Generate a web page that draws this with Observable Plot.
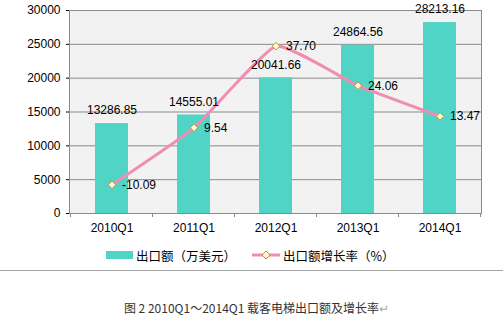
<!DOCTYPE html>
<html>
<head>
<meta charset="utf-8">
<script src="https://cdn.jsdelivr.net/npm/d3@7"></script>
<script src="https://cdn.jsdelivr.net/npm/@observablehq/plot@0.6"></script>
<style>
  html, body { margin: 0; padding: 0; background: #fff; }
  body { width: 503px; height: 325px; overflow: hidden; font-family: "Liberation Sans", Arial, sans-serif; }
  #chart svg { display: block; }
  #legend { position: relative; height: 30px; font-family: "Noto Sans CJK SC", sans-serif; font-size: 12.5px; color: #000; }
  #legend .item { position: absolute; top: 0; display: flex; align-items: center; height: 30px; }
  #rule { height: 0; border-top: 1px solid #a6a6a6; margin: 0; }
  #caption { text-align: center; font-family: "Noto Sans CJK SC", sans-serif; font-size: 12px; color: #333; margin-top: 28px; padding-left: 10px; }
  #caption .ret { color: #aaa; }
</style>
</head>
<body>
<div id="chart"></div>
<div id="legend"></div>
<div id="rule"></div>
<div id="caption"></div>
<script>
// ---- data ----
const quarters = ["2010Q1", "2011Q1", "2012Q1", "2013Q1", "2014Q1"];
const exportValues = [13286.85, 14555.01, 20041.66, 24864.56, 28213.16]; // 出口额（万美元）
const growthRates = [-10.09, 9.54, 37.70, 24.06, 13.47];                 // 出口额增长率（%）
const yTicks = [0, 5000, 10000, 15000, 20000, 25000, 30000];
const seriesNames = ["出口额（万美元）", "出口额增长率（%）"];
const captionText = "图 2 2010Q1～2014Q1 载客电梯出口额及增长率";

// secondary (hidden) axis for growth rate: -20 .. 50 mapped onto 0 .. 30000
const rateDomain = [-20, 50];
const yDomain = [0, 30000];
const rateToY = r => (r - rateDomain[0]) / (rateDomain[1] - rateDomain[0]) * (yDomain[1] - yDomain[0]) + yDomain[0];

const data = quarters.map((q, i) => ({q, value: exportValues[i], rate: growthRates[i]}));

const barColor = "#4fd4c6";
const lineColor = "#f28db2";
const markerFill = "#ffffc4";
const markerStroke = "#cf8a52";
const gridColor = "#8a8a8a";

// boundary ticks on the x axis (between categories), derived from the band scale
function boundaryTicks(index, scales, values, dims) {
  const x = scales.x;
  const bw = typeof x.bandwidth === "function" ? x.bandwidth() : 0;
  const step = typeof x.step === "function" ? x.step() : 0;
  const y0 = scales.y(0);
  const g = document.createElementNS("http://www.w3.org/2000/svg", "g");
  const edges = [];
  quarters.forEach((q, i) => {
    const c = x(q) + bw / 2;
    if (i === 0) edges.push(c - step / 2);
    edges.push(c + step / 2);
  });
  for (const e of edges) {
    const l = document.createElementNS("http://www.w3.org/2000/svg", "line");
    l.setAttribute("x1", e); l.setAttribute("x2", e);
    l.setAttribute("y1", y0); l.setAttribute("y2", y0 + 4);
    l.setAttribute("stroke", gridColor);
    g.appendChild(l);
  }
  return g;
}

const chart = Plot.plot({
  width: 503,
  height: 240,
  marginLeft: 69,
  marginRight: 22,
  marginTop: 10,
  marginBottom: 27,
  style: {fontFamily: "Liberation Sans, Arial, sans-serif", fontSize: "12px", color: "#000", background: "transparent"},
  x: {domain: quarters, paddingInner: 0.6, paddingOuter: 0.3, tickSize: 0, tickPadding: 10, label: null},
  y: {domain: yDomain, ticks: yTicks, tickFormat: d => String(d), tickSize: 3, tickPadding: 6, label: null},
  marks: [
    Plot.frame({fill: "#f2f2f2", stroke: "none"}),
    Plot.ruleY(yTicks, {stroke: gridColor, strokeWidth: 1}),
    Plot.barY(data, {x: "q", y: "value", fill: barColor}),
    Plot.frame({stroke: gridColor, strokeWidth: 1}),
    boundaryTicks,
    Plot.line(data, {x: "q", y: d => rateToY(d.rate), stroke: lineColor, strokeWidth: 3, curve: "cardinal", tension: 0.6}),
    Plot.dot(data, {x: "q", y: d => rateToY(d.rate), symbol: "diamond2", r: 3.4, fill: markerFill, stroke: markerStroke, strokeWidth: 1}),
    Plot.text(data, {x: "q", y: "value", text: d => d.value.toFixed(2), dy: -13, fontSize: 12, fill: "#000"}),
    Plot.text(data, {x: "q", y: d => rateToY(d.rate), text: d => d.rate.toFixed(2), textAnchor: "start", dx: 10, fontSize: 12, fill: "#000"})
  ]
});
document.getElementById("chart").appendChild(chart);

// legend
const legend = document.getElementById("legend");
legend.innerHTML = `
  <div class="item" style="left:106px">
    <span style="display:inline-block;width:27px;height:8px;background:${barColor};margin-right:3px"></span>
    <span>${seriesNames[0]}</span>
  </div>
  <div class="item" style="left:252px">
    <svg width="28" height="10" style="margin-right:3px">
      <line x1="0" x2="28" y1="5" y2="5" stroke="${lineColor}" stroke-width="3"></line>
      <path d="M14,1 L18,5 L14,9 L10,5 Z" fill="${markerFill}" stroke="${markerStroke}" stroke-width="1"></path>
    </svg>
    <span>${seriesNames[1]}</span>
  </div>`;

document.getElementById("caption").innerHTML = captionText + '<span class="ret">↵</span>';
</script>
</body>
</html>
